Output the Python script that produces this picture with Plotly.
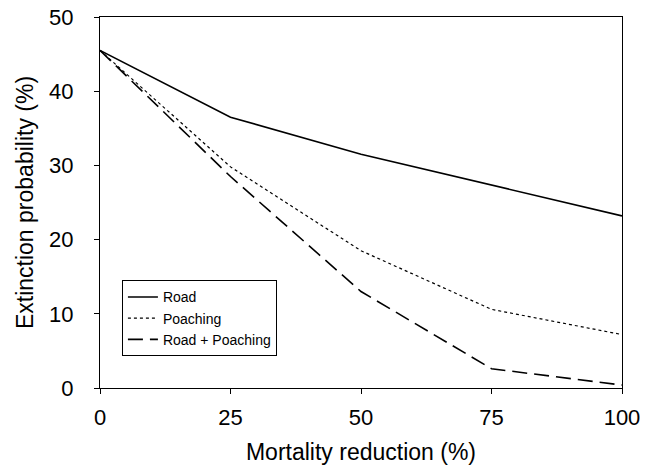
import plotly.graph_objects as go

mortality_reduction = [0, 25, 50, 75, 100]
road = [45.5, 36.5, 31.5, 27.3, 23.2]
poaching = [45.5, 29.8, 18.5, 10.6, 7.2]
road_poaching = [45.5, 28.5, 13.0, 2.6, 0.4]

x_ticks = [0, 25, 50, 75, 100]
y_ticks = [0, 10, 20, 30, 40, 50]

FONT = "Liberation Sans, Arial, sans-serif"

fig = go.Figure()
fig.add_trace(go.Scatter(x=mortality_reduction, y=road, mode="lines", name="Road",
                         line=dict(color="black", width=1.6, dash="solid")))
fig.add_trace(go.Scatter(x=mortality_reduction, y=poaching, mode="lines", name="Poaching",
                         line=dict(color="black", width=1.2, dash="dot")))
fig.add_trace(go.Scatter(x=mortality_reduction, y=road_poaching, mode="lines", name="Road + Poaching",
                         line=dict(color="black", width=1.6, dash="15px,7px")))

fig.update_layout(
    width=651, height=469,
    margin=dict(l=100, r=29, t=17, b=81),
    paper_bgcolor="white", plot_bgcolor="white",
    font=dict(family=FONT, color="black"),
    showlegend=True,
    legend=dict(x=0.042, y=0.29, xanchor="left", yanchor="top",
                bordercolor="black", borderwidth=1, bgcolor="white",
                font=dict(size=14, family=FONT), itemwidth=30,
                tracegroupgap=0),
    xaxis=dict(range=[0, 100], tickvals=x_ticks, ticktext=[str(v) for v in x_ticks],
               showline=True, linecolor="black", linewidth=1, mirror=True,
               ticks="outside", ticklen=5, tickcolor="black", showgrid=False, zeroline=False,
               ticklabelstandoff=5, automargin=False,
               tickfont=dict(size=22), title=dict(text="Mortality reduction (%)", font=dict(size=23), standoff=14)),
    yaxis=dict(range=[0, 50], tickvals=y_ticks,
               showline=True, linecolor="black", linewidth=1, mirror=True,
               ticks="outside", ticklen=5, tickcolor="black", showgrid=False, zeroline=False,
               ticklabelstandoff=16, automargin=False,
               tickfont=dict(size=22), title=dict(text="Extinction probability (%)", font=dict(size=23), standoff=9)),
)

fig.write_html("out.html")
